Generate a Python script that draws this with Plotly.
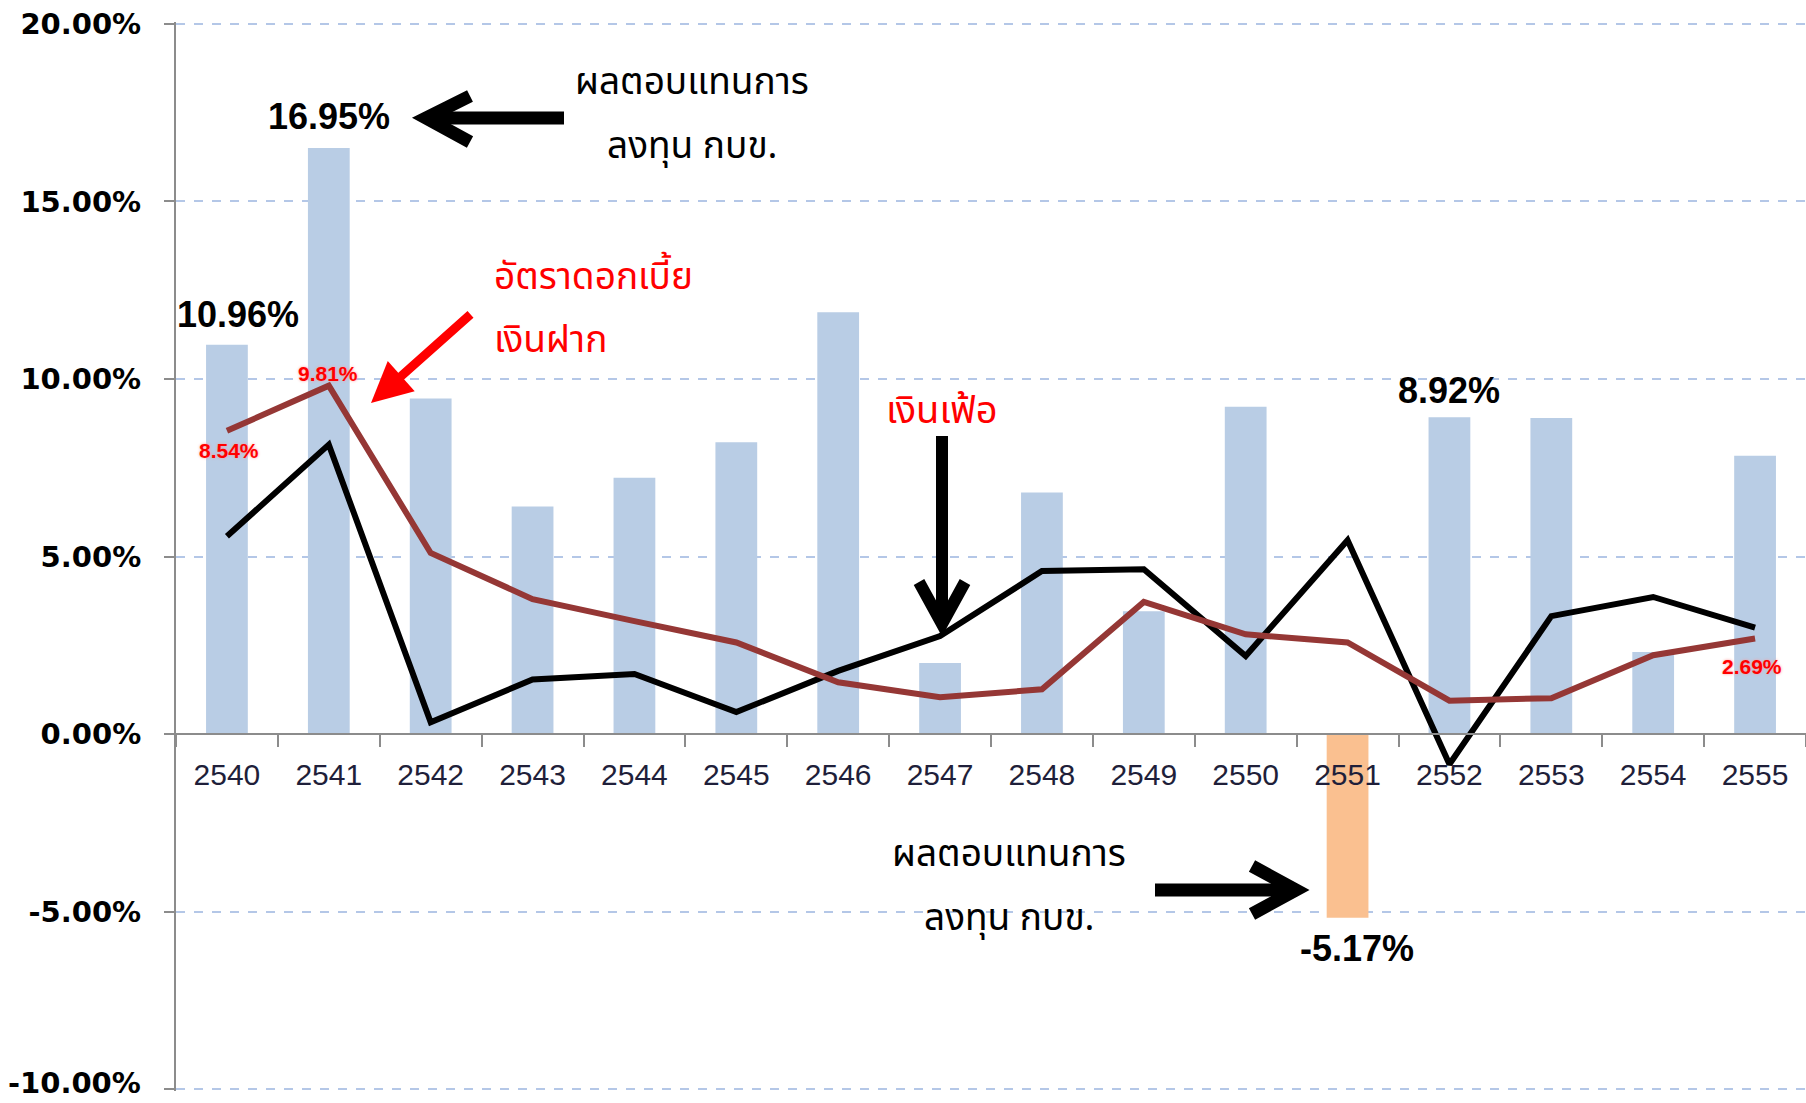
import plotly.graph_objects as go

# ---------------- data ----------------
years = ["2540", "2541", "2542", "2543", "2544", "2545", "2546", "2547",
         "2548", "2549", "2550", "2551", "2552", "2553", "2554", "2555"]
fund_return = [10.96, 16.50, 9.45, 6.41, 7.22, 8.22, 11.88, 2.00,
               6.80, 3.46, 9.22, -5.17, 8.92, 8.90, 2.31, 7.84]
inflation = [5.57, 8.15, 0.33, 1.54, 1.69, 0.62, 1.78, 2.76,
             4.59, 4.64, 2.20, 5.46, -0.85, 3.32, 3.86, 3.00]
deposit_rate = [8.54, 9.81, 5.10, 3.80, 3.18, 2.58, 1.46, 1.04,
                1.26, 3.72, 2.81, 2.58, 0.94, 1.01, 2.22, 2.69]
y_ticks = [-10, -5, 0, 5, 10, 15, 20]

# ---------------- layout geometry (pixels) ----------------
W_FIG, H_FIG = 1806, 1103
L, T, R, B = 176, 22, 0, 12
PW, PH = W_FIG - L - R, H_FIG - T - B
Y_MIN, Y_MAX = -10.05, 20.05


def px(x, y):
    """pixel position -> paper fraction"""
    return (x - L) / PW, (T + PH - y) / PH


bar_colors = ["#B9CDE5" if v >= 0 else "#FAC090" for v in fund_return]

fig = go.Figure()
fig.add_trace(go.Bar(x=years, y=fund_return, marker=dict(color=bar_colors, line=dict(width=0)),
                     width=0.41, hoverinfo="skip"))
fig.add_trace(go.Scatter(x=years, y=inflation, mode="lines",
                         line=dict(color="#000000", width=6), hoverinfo="skip"))
fig.add_trace(go.Scatter(x=years, y=deposit_rate, mode="lines",
                         line=dict(color="#953735", width=6), hoverinfo="skip"))

annotations = []
shapes = []

BIG = dict(family="Liberation Sans, Arial", size=36, color="#000000", weight="bold")
YTICK_FONT = dict(family="DejaVu Sans", size=29, color="#000000", weight="bold")


def text(x, y, s, font, xanchor="center", yanchor="middle"):
    xp, yp = px(x, y)
    annotations.append(dict(x=xp, y=yp, xref="paper", yref="paper", text=s, showarrow=False,
                            xanchor=xanchor, yanchor=yanchor, font=font, borderpad=0))


# value labels
text(329, 116, "16.95%", BIG)
text(238, 314, "10.96%", BIG)
text(1449, 390, "8.92%", BIG)
text(1357, 949, "-5.17%", BIG)

RED_SMALL = dict(family="Liberation Sans Narrow, Liberation Sans, Arial", size=21,
                 color="#FF0000", weight="bold", shadow="0px 0px 3px #FF9999")
text(328, 373, "9.81%", RED_SMALL)
text(229, 450, "8.54%", RED_SMALL)
text(1752, 666, "2.69%", RED_SMALL)

THAI = "Noto Sans Thai, Noto Sans, Tahoma, sans-serif"
TH_BLACK = dict(family=THAI, size=37, color="#000000")
TH_RED = dict(family=THAI, size=37, color="#FF0000")

text(692, 83, "ผลตอบแทนการ", TH_BLACK)
text(692, 147, "ลงทุน กบข.", TH_BLACK)
text(1009, 855, "ผลตอบแทนการ", TH_BLACK)
text(1009, 919, "ลงทุน กบข.", TH_BLACK)
text(493, 278, "อัตราดอกเบี้ย", TH_RED, xanchor="left")
text(493, 341, "เงินฝาก", TH_RED, xanchor="left")
text(942, 411, "เงินเฟ้อ", dict(family=THAI, size=38, color="#FF0000"))

# bottom y tick label, nudged up so it stays inside the page
tick_text = ["{:.2f}%".format(v) for v in y_ticks]
text(142, 1101, tick_text[0], YTICK_FONT, xanchor="right", yanchor="bottom")
tick_text_axis = [""] + tick_text[1:]

# red arrow with filled head
tipx, tipy = px(371, 403)
annotations.append(dict(x=tipx, y=tipy, xref="paper", yref="paper", text="", showarrow=True,
                        ax=101, ay=-90, arrowhead=2, arrowsize=0.9, arrowwidth=9,
                        arrowcolor="#FF0000"))


def chevron_arrow(start, tip, arm1, arm2, width=12):
    pts = [px(*start), px(*tip)]
    shapes.append(dict(type="path", xref="paper", yref="paper",
                       path="M {},{} L {},{}".format(pts[0][0], pts[0][1], pts[1][0], pts[1][1]),
                       line=dict(color="#000000", width=width)))
    a1, tp, a2 = px(*arm1), px(*tip), px(*arm2)
    shapes.append(dict(type="path", xref="paper", yref="paper",
                       path="M {},{} L {},{} L {},{}".format(a1[0], a1[1], tp[0], tp[1], a2[0], a2[1]),
                       line=dict(color="#000000", width=width)))


chevron_arrow((564, 118), (426, 118), (470, 96), (470, 142), width=13)
chevron_arrow((942, 436), (942, 624), (919, 582), (965, 582), width=12)
chevron_arrow((1155, 890), (1296, 890), (1252, 866), (1252, 914), width=13)

fig.update_layout(
    template="none",
    width=W_FIG, height=H_FIG,
    margin=dict(l=L, r=R, t=T, b=B, pad=0, autoexpand=False),
    paper_bgcolor="#FFFFFF", plot_bgcolor="#FFFFFF",
    showlegend=False,
    bargap=0.59,
    annotations=annotations,
    shapes=shapes,
    xaxis=dict(
        type="category", categoryorder="array", categoryarray=years,
        anchor="free", position=(0 - Y_MIN) / (Y_MAX - Y_MIN),
        automargin=False,
        showline=True, linecolor="#8C8C8C", linewidth=2,
        ticks="outside", tickson="boundaries", ticklen=12, tickwidth=2, tickcolor="#8C8C8C",
        ticklabelstandoff=14,
        tickfont=dict(family="Liberation Sans, Arial", size=30, color="#1F1F3A"),
        showgrid=False, zeroline=False, fixedrange=True,
    ),
    yaxis=dict(
        range=[Y_MIN, Y_MAX], tickvals=y_ticks,
        ticktext=tick_text_axis,
        automargin=False, ticklabeloverflow="allow",
        showline=True, linecolor="#8C8C8C", linewidth=2,
        ticks="outside", ticklen=10, tickwidth=2, tickcolor="#8C8C8C",
        ticklabelstandoff=17,
        tickfont=YTICK_FONT,
        showgrid=True, gridcolor="#B4C7E7", gridwidth=1.5, griddash="dash",
        zeroline=False, fixedrange=True,
    ),
)

fig.write_html("out.html", config={"displayModeBar": False},
               post_script="document.body.style.margin='0';document.body.style.overflow='hidden';")
